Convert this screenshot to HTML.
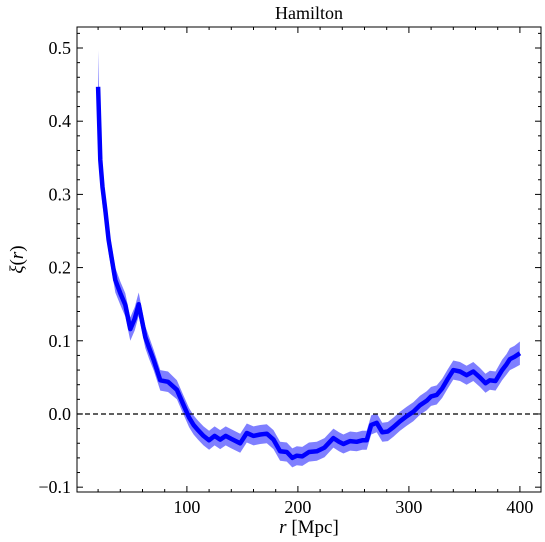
<!DOCTYPE html>
<html><head><meta charset="utf-8"><style>
body{margin:0;background:#fff}
svg{display:block;font-family:"Liberation Serif",serif}
</style></head><body>
<svg id="chart" width="545" height="542" xmlns="http://www.w3.org/2000/svg"></svg>
<script>
const rValues=[20,22,24,26.5,29.5,32,35.5,40,44.5,49,53,56.6,62.5,66,70,76,83,91,97,102,106,110,115,120,125,130,135,140,148,154,160,166,172,178,184,190,195,199,204,210,217,224,232,237,241,247,253,258,262,266,271,276,281,286,292,298,304,310,316,320,325,330,335,340,346,352,358,364,369,373,378,384,388,391,395,400];
const xiValues=[0.447,0.347,0.31,0.279,0.238,0.215,0.183,0.165,0.149,0.116,0.13,0.15,0.105,0.09,0.074,0.046,0.044,0.033,0.012,-0.005,-0.015,-0.022,-0.03,-0.036,-0.03,-0.035,-0.03,-0.034,-0.04,-0.026,-0.03,-0.028,-0.027,-0.035,-0.051,-0.052,-0.06,-0.057,-0.058,-0.052,-0.051,-0.046,-0.033,-0.038,-0.041,-0.037,-0.038,-0.036,-0.036,-0.015,-0.012,-0.025,-0.024,-0.018,-0.01,-0.003,0.003,0.012,0.018,0.024,0.026,0.035,0.048,0.06,0.058,0.053,0.058,0.05,0.042,0.046,0.045,0.06,0.068,0.075,0.078,0.083];
const errValues=[0.05,0.03,0.025,0.02,0.018,0.017,0.017,0.016,0.016,0.016,0.016,0.016,0.015,0.015,0.014,0.014,0.014,0.013,0.013,0.013,0.013,0.013,0.013,0.013,0.013,0.013,0.013,0.013,0.013,0.013,0.013,0.013,0.013,0.013,0.013,0.013,0.013,0.013,0.013,0.013,0.013,0.013,0.013,0.013,0.013,0.013,0.013,0.013,0.013,0.013,0.013,0.013,0.013,0.013,0.013,0.013,0.013,0.013,0.013,0.013,0.013,0.013,0.013,0.013,0.013,0.013,0.013,0.013,0.013,0.013,0.013,0.014,0.014,0.015,0.015,0.016];
const xTicks=[100,200,300,400];
const yTicks=[-0.1,0,0.1,0.2,0.3,0.4,0.5];
const yTickLabels=["\u22120.1","0.0","0.1","0.2","0.3","0.4","0.5"];

const L=77,R=541,T=27,B=492;
const xmin=1,xmax=419,ymin=-0.1066,ymax=0.5287;
const X=v=>L+(v-xmin)/(xmax-xmin)*(R-L);
const Y=v=>B-(v-ymin)/(ymax-ymin)*(B-T);
const svg=document.getElementById('chart');
const NS='http://www.w3.org/2000/svg';
function mk(tag,attrs,parent){const e=document.createElementNS(NS,tag);for(const k in attrs)e.setAttribute(k,attrs[k]);(parent||svg).appendChild(e);return e;}

let up=rValues.map((r,i)=>X(r).toFixed(1)+','+Y(xiValues[i]+errValues[i]).toFixed(1));
let dn=rValues.map((r,i)=>X(r).toFixed(1)+','+Y(xiValues[i]-errValues[i]).toFixed(1)).reverse();
const band=mk('polygon',{points:up.concat(dn).join(' '),fill:'rgba(0,0,255,0.5)',stroke:'none'});


const zl=mk('line',{x1:L,x2:R,y1:Y(0),y2:Y(0),stroke:'#000','stroke-width':1.3,'stroke-dasharray':'5,3'});


const ln=mk('polyline',{points:rValues.map((r,i)=>X(r).toFixed(1)+','+Y(xiValues[i]).toFixed(1)).join(' '),fill:'none',stroke:'#0000ff','stroke-width':4.5,'stroke-linejoin':'round'});



const fr=mk('rect',{x:L,y:T,width:R-L,height:B-T,fill:'none',stroke:'#000','stroke-width':1});



for(let v=20;v<=xmax;v+=20){const x=X(v);const major=v%100===0;const len=major?6:3;
  mk('line',{x1:x,x2:x,y1:B,y2:B-len,stroke:'#000'});mk('line',{x1:x,x2:x,y1:T,y2:T+len,stroke:'#000'});}
xTicks.forEach(v=>{const t=mk('text',{x:X(v),y:B+21,'text-anchor':'middle','font-size':18});t.textContent=v;
  
  });
for(let k=-5;k<=26;k++){const v=k*0.02;if(v<ymin||v>ymax)continue;const y=Y(v);const major=k%5===0;const len=major?6:3;
  mk('line',{x1:L,x2:L+len,y1:y,y2:y,stroke:'#000'});mk('line',{x1:R,x2:R-len,y1:y,y2:y,stroke:'#000'});}
yTicks.forEach((v,i)=>{const t=mk('text',{x:L-6,y:Y(v)+6,'text-anchor':'end','font-size':18});t.textContent=yTickLabels[i];
  
  });

const title=mk('text',{x:(L+R)/2,y:19,'text-anchor':'middle','font-size':18});title.textContent='Hamilton';


const xl=mk('text',{x:(L+R)/2,y:533,'text-anchor':'middle','font-size':19});
xl.innerHTML='<tspan font-style="italic">r</tspan> [Mpc]';


const yl=mk('text',{x:0,y:0,'text-anchor':'middle','font-size':19,transform:'translate(23,'+((T+B)/2)+') rotate(-90)'});
yl.innerHTML='<tspan font-style="italic">ξ</tspan>(<tspan font-style="italic">r</tspan>)';


</script>
</body></html>
